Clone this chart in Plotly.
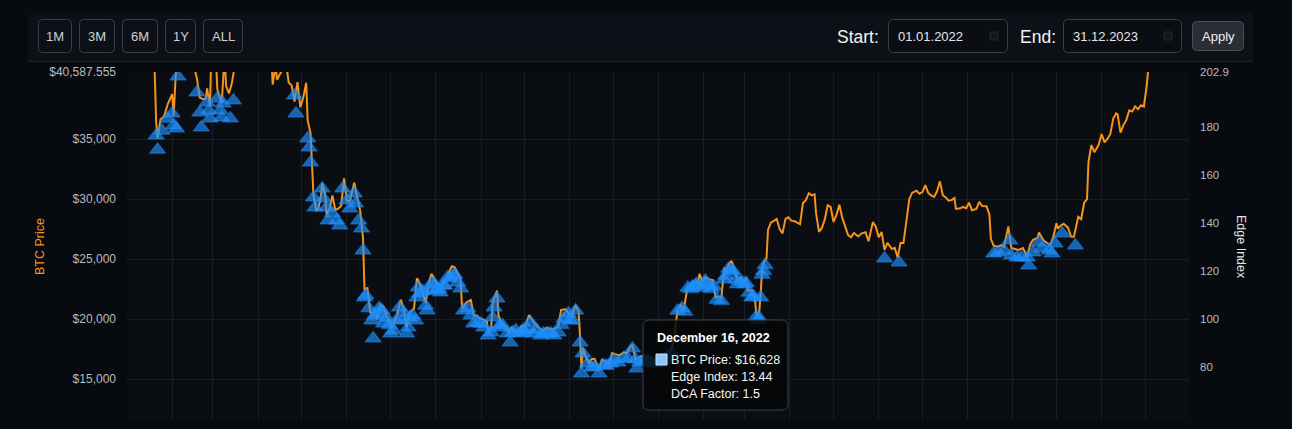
import pandas as pd
import plotly.graph_objects as go

# ---------------- data ----------------
price_dates = [
 "2022-01-01","2022-01-03","2022-01-05","2022-01-07","2022-01-10","2022-01-12","2022-01-14","2022-01-17","2022-01-19","2022-01-20",
 "2022-01-21","2022-01-22","2022-01-24","2022-01-26","2022-01-27","2022-01-29","2022-01-31","2022-02-01","2022-02-02","2022-02-04",
 "2022-02-07","2022-02-09","2022-02-11","2022-02-14","2022-02-16","2022-02-17","2022-02-18","2022-02-20","2022-02-22","2022-02-24",
 "2022-02-25","2022-02-27","2022-02-28","2022-03-02","2022-03-04","2022-03-06","2022-03-07","2022-03-09","2022-03-10","2022-03-12",
 "2022-03-14","2022-03-16","2022-03-18","2022-03-20","2022-03-22","2022-03-24","2022-03-27","2022-03-29","2022-04-01","2022-04-04",
 "2022-04-06","2022-04-08","2022-04-10","2022-04-11","2022-04-13","2022-04-14","2022-04-16","2022-04-18","2022-04-20","2022-04-22",
 "2022-04-24","2022-04-26","2022-04-28","2022-04-30","2022-05-02","2022-05-04","2022-05-05","2022-05-07","2022-05-09","2022-05-11",
 "2022-05-12","2022-05-14","2022-05-15","2022-05-17","2022-05-18","2022-05-20","2022-05-22","2022-05-24","2022-05-26","2022-05-28",
 "2022-05-30","2022-06-01","2022-06-03","2022-06-06","2022-06-08","2022-06-10","2022-06-12","2022-06-13","2022-06-15","2022-06-17",
 "2022-06-18","2022-06-20","2022-06-22","2022-06-24","2022-06-26","2022-06-28","2022-06-30","2022-07-02","2022-07-05","2022-07-08",
 "2022-07-10","2022-07-12","2022-07-14","2022-07-17","2022-07-19","2022-07-20","2022-07-22","2022-07-25","2022-07-27","2022-07-29",
 "2022-07-31","2022-08-02","2022-08-04","2022-08-07","2022-08-10","2022-08-12","2022-08-14","2022-08-16","2022-08-18","2022-08-19",
 "2022-08-22","2022-08-25","2022-08-27","2022-08-29","2022-08-31","2022-09-02","2022-09-05","2022-09-06","2022-09-08","2022-09-09",
 "2022-09-12","2022-09-13","2022-09-15","2022-09-18","2022-09-20","2022-09-22","2022-09-24","2022-09-27","2022-09-29","2022-10-01",
 "2022-10-04","2022-10-06","2022-10-09","2022-10-12","2022-10-14","2022-10-16","2022-10-19","2022-10-21","2022-10-24","2022-10-26",
 "2022-10-29","2022-10-31","2022-11-02","2022-11-05","2022-11-07","2022-11-08","2022-11-09","2022-11-10","2022-11-12","2022-11-14",
 "2022-11-16","2022-11-18","2022-11-21","2022-11-23","2022-11-25","2022-11-28","2022-11-30","2022-12-02","2022-12-05","2022-12-08",
 "2022-12-10","2022-12-13","2022-12-14","2022-12-16","2022-12-18","2022-12-20","2022-12-23","2022-12-26","2022-12-29","2022-12-31",
 "2023-01-02","2023-01-05","2023-01-08","2023-01-10","2023-01-12","2023-01-14","2023-01-16","2023-01-18","2023-01-21","2023-01-23",
 "2023-01-25","2023-01-28","2023-01-29","2023-01-31","2023-02-02","2023-02-04","2023-02-07","2023-02-09","2023-02-11","2023-02-13",
 "2023-02-15","2023-02-16","2023-02-18","2023-02-20","2023-02-22","2023-02-24","2023-02-26","2023-02-28","2023-03-02","2023-03-03",
 "2023-03-06","2023-03-08","2023-03-09","2023-03-10","2023-03-11","2023-03-12","2023-03-13","2023-03-14","2023-03-16","2023-03-17",
 "2023-03-19","2023-03-21","2023-03-23","2023-03-25","2023-03-27","2023-03-29","2023-03-31","2023-04-02","2023-04-04","2023-04-06",
 "2023-04-08","2023-04-10","2023-04-12","2023-04-14","2023-04-16","2023-04-18","2023-04-19","2023-04-21","2023-04-23","2023-04-25",
 "2023-04-27","2023-04-29","2023-05-01","2023-05-03","2023-05-05","2023-05-07","2023-05-09","2023-05-11","2023-05-13","2023-05-15",
 "2023-05-18","2023-05-20","2023-05-23","2023-05-25","2023-05-28","2023-05-30","2023-06-01","2023-06-03","2023-06-05","2023-06-07",
 "2023-06-10","2023-06-12","2023-06-14","2023-06-16","2023-06-18","2023-06-20","2023-06-22","2023-06-24","2023-06-27","2023-06-29",
 "2023-07-01","2023-07-03","2023-07-05","2023-07-07","2023-07-09","2023-07-11","2023-07-13","2023-07-15","2023-07-17","2023-07-19",
 "2023-07-21","2023-07-23","2023-07-24","2023-07-27","2023-07-29","2023-07-31","2023-08-02","2023-08-04","2023-08-07","2023-08-09",
 "2023-08-11","2023-08-14","2023-08-16","2023-08-17","2023-08-19","2023-08-22","2023-08-24","2023-08-26","2023-08-29","2023-08-31",
 "2023-09-02","2023-09-05","2023-09-08","2023-09-11","2023-09-13","2023-09-15","2023-09-18","2023-09-19","2023-09-22","2023-09-25",
 "2023-09-27","2023-09-29","2023-10-01","2023-10-02","2023-10-04","2023-10-06","2023-10-09","2023-10-11","2023-10-13","2023-10-16",
 "2023-10-18","2023-10-20","2023-10-22","2023-10-23","2023-10-25","2023-10-27","2023-10-30","2023-11-01","2023-11-03","2023-11-05",
 "2023-11-07","2023-11-09","2023-11-11","2023-11-12","2023-11-14","2023-11-16","2023-11-18","2023-11-20","2023-11-22","2023-11-24",
 "2023-11-26","2023-11-28","2023-11-30","2023-12-02","2023-12-04","2023-12-06","2023-12-08","2023-12-11","2023-12-14","2023-12-17",
 "2023-12-20","2023-12-23","2023-12-26","2023-12-29","2023-12-31",
]
btc_price = [
 47686,46458,43569,41557,41822,43949,43097,42250,41744,40681,
 36458,35031,36654,36825,37112,37917,38483,38743,36953,41575,
 43840,44338,42373,42586,44000,40538,40030,38431,38340,38332,
 39214,37700,43193,44421,39148,38420,37988,41982,39437,38794,
 39666,41143,41794,41262,42364,43960,46820,47465,46281,46622,
 43170,42252,42159,39530,41147,39942,40424,40801,41502,39709,
 39469,38117,39742,37644,38469,39698,36575,35468,30297,29031,
 29103,30081,31306,30425,28716,29167,30293,29098,29200,29440,
 31724,29796,29864,31370,30196,29077,26770,22487,22572,20553,
 20472,20553,19970,21228,21028,20280,19785,19298,20190,21612,
 20847,19329,20584,20836,23389,23231,22614,21310,22961,23774,
 23336,22978,22626,23175,23936,24403,24319,23880,23335,20877,
 21395,21587,20297,20297,20050,19987,19812,18838,19319,21376,
 22371,20297,19701,19419,18877,19291,18920,19110,19426,19312,
 20340,19960,19446,19157,19069,19262,19125,19172,19345,20771,
 20810,20495,20161,21162,20592,18541,15880,17587,16799,16353,
 16670,16692,15782,16603,16521,16213,17168,17080,16968,17226,
 17128,17782,17815,16628,16776,16906,16779,16842,16633,16548,
 16680,16834,17128,17441,18847,20881,21186,20688,22785,22931,
 23058,23031,23775,23125,23481,23328,23247,21797,21866,21788,
 24296,23746,24550,24851,24188,23166,23512,23150,23438,22389,
 22407,21725,20361,20187,20632,22163,24197,24747,25053,27423,
 28038,28176,28332,27494,27139,28350,28478,28199,28169,28033,
 27906,29676,29903,30485,30315,30396,28822,27262,27592,28307,
 29478,29340,28091,28680,29534,28430,27661,26988,26807,27172,
 26885,27118,27225,26480,28075,27702,26820,27253,25762,26353,
 25852,25941,25119,26344,26336,28328,29996,30530,30693,30446,
 30586,31155,30514,30295,30172,30624,31476,30321,30139,29862,
 29909,30082,29176,29230,29353,29230,29705,29072,29183,29766,
 29424,29409,28702,26665,26100,26034,26163,26009,27726,25931,
 25869,25753,25910,25163,26235,26609,26760,27211,26580,26298,
 26225,26911,27983,27530,27790,27946,27595,26870,26862,28519,
 28328,29669,29993,33086,34502,33909,34526,35422,34720,35011,
 35425,36702,37138,37054,35537,36163,36596,37387,37289,37720,
 37479,37820,37713,39460,41980,44080,44166,41243,43022,41364,
 43652,43997,42520,42099,42265,
]

signal_dates = [
 "2022-01-21","2022-01-22","2022-01-25","2022-01-29","2022-02-01","2022-02-02","2022-02-04","2022-02-05",
 "2022-02-18","2022-02-20","2022-02-21","2022-02-25","2022-02-26","2022-02-27","2022-03-04","2022-03-06",
 "2022-03-07","2022-03-08","2022-03-13","2022-03-15",
 "2022-04-26","2022-04-27","2022-05-05","2022-05-06","2022-05-07",
 "2022-05-09","2022-05-10","2022-05-15","2022-05-16","2022-05-18","2022-05-19","2022-05-22","2022-05-25",
 "2022-05-27","2022-05-29","2022-06-01","2022-06-03","2022-06-06","2022-06-07","2022-06-09","2022-06-11","2022-06-12",
 "2022-06-13","2022-06-14","2022-06-16","2022-06-18","2022-06-19","2022-06-20","2022-06-22","2022-06-23","2022-06-25",
 "2022-06-26","2022-06-28","2022-06-30","2022-07-01","2022-07-03","2022-07-05","2022-07-07","2022-07-09","2022-07-10",
 "2022-07-12","2022-07-13","2022-07-14","2022-07-16","2022-07-18","2022-07-19","2022-07-20","2022-07-21","2022-07-23",
 "2022-07-25","2022-07-26","2022-07-27","2022-07-29","2022-07-31","2022-08-01","2022-08-03","2022-08-04","2022-08-06",
 "2022-08-07","2022-08-09","2022-08-11","2022-08-13","2022-08-14","2022-08-16","2022-08-18","2022-08-20","2022-08-23",
 "2022-08-25","2022-08-27","2022-08-30","2022-09-01","2022-09-03","2022-09-06","2022-09-08","2022-09-09","2022-09-10",
 "2022-09-12","2022-09-13","2022-09-14","2022-09-16","2022-09-19","2022-09-21","2022-09-23","2022-09-25","2022-09-28",
 "2022-09-30","2022-10-01","2022-10-03","2022-10-05","2022-10-07","2022-10-09","2022-10-12","2022-10-14","2022-10-17",
 "2022-10-19","2022-10-21","2022-10-24","2022-10-26","2022-10-28","2022-10-31","2022-11-01","2022-11-03","2022-11-05",
 "2022-11-08","2022-11-09","2022-11-10","2022-11-13","2022-11-16","2022-11-18","2022-11-21","2022-11-24","2022-11-26",
 "2022-11-29","2022-12-01","2022-12-04","2022-12-08","2022-12-11","2022-12-14","2022-12-16","2022-12-17","2022-12-19",
 "2022-12-22","2022-12-24","2022-12-26","2022-12-28","2022-12-30","2023-01-01","2023-01-03","2023-01-05","2023-01-07",
 "2023-01-10","2023-01-14","2023-01-17","2023-01-19","2023-01-21","2023-01-23","2023-01-24","2023-01-26","2023-01-27",
 "2023-01-30","2023-02-01","2023-02-02","2023-02-05","2023-02-06","2023-02-08","2023-02-10","2023-02-13","2023-02-15",
 "2023-02-16","2023-02-18","2023-02-20","2023-02-21","2023-02-23","2023-02-24","2023-02-27","2023-03-01","2023-03-02",
 "2023-03-04","2023-03-06","2023-03-07","2023-03-09","2023-03-10","2023-03-11","2023-03-12","2023-03-13","2023-03-14",
 "2023-03-15",
 "2023-06-05","2023-06-15",
 "2023-08-19","2023-08-22","2023-08-26","2023-08-30","2023-08-31","2023-09-04","2023-09-07","2023-09-11","2023-09-12",
 "2023-09-15","2023-09-19","2023-09-21","2023-09-26","2023-09-28","2023-09-30","2023-10-05","2023-10-14",
]
signal_price = [
 35300,34100,35700,36700,37130,36130,35880,40212,
 38875,37212,35962,38046,37380,36712,38380,37380,
 36800,37962,36712,38212,
 38630,37130,35046,34300,33046,
 30130,29296,30880,30046,29296,28212,28796,28212,
 27796,30880,29880,29212,30460,29630,28212,27546,25712,
 21796,21962,20900,19880,18380,20300,20462,20900,20712,
 19630,20100,19500,18796,19046,19900,20962,19880,20500,
 18796,19296,20100,20296,19880,21796,22630,22130,22300,
 21100,20712,22400,22962,22900,22380,22500,22212,22796,
 22800,23462,23400,23630,23700,23046,22546,20712,20880,
 20296,19630,19712,19600,19296,18630,18900,20130,20962,
 21712,19296,19500,19462,18796,18046,18900,19046,18796,
 19100,18880,19200,19712,18796,19100,18630,18800,18796,
 18800,18630,18880,19500,20046,20462,19900,19880,20712,
 18046,15462,17130,16296,15962,16000,15462,16130,16100,
 16296,16600,16380,16712,16700,17546,16628,15880,16400,
 16546,16500,16400,16300,16300,16400,16500,16600,16900,
 17200,20700,20900,20600,22600,22500,22700,22800,22900,
 22600,22900,23200,22800,22500,22700,21600,21500,23300,
 23600,24200,24000,24000,23300,22900,23100,22900,23000,
 22200,21800,21900,20200,19900,20100,21800,23700,24000,
 24500,
 25046,24712,
 25462,25546,25712,26546,25296,25130,25130,25130,24462,
 25546,26380,25880,25712,25462,26296,27130,26130,
]

range_buttons = ["1M", "3M", "6M", "1Y", "ALL"]
start_label, start_value = "Start:", "01.01.2022"
end_label, end_value = "End:", "31.12.2023"
apply_label = "Apply"

left_range = [11337.555, 40587.555]
left_tick_vals = [15000, 20000, 25000, 30000, 35000]
right_range = [56.7, 202.9]
right_tick_vals = [80, 100, 120, 140, 160, 180]
x_range = ["2022-01-01", "2023-12-31"]

tip_date = "2022-12-16"
tip_price = 16628
tip_edge = 13.44
tip_dca = 1.5

# ---------------- geometry helpers ----------------
W, H = 1292, 429
PL, PR, PT, PB = 127, 1189, 72, 423


def px(x):
    return (x - PL) / (PR - PL)


def py(y):
    return (PB - y) / (PB - PT)


def rrect(x0, y0, x1, y1, r, fill, line=None, lw=1, layer="below", top_only=False):
    X0, X1, Y0, Y1 = px(x0), px(x1), py(y0), py(y1)
    rx = r / (PR - PL)
    ry = r / (PB - PT)
    if top_only:
        path = (f"M{X0},{Y1} V{Y0-ry} Q{X0},{Y0} {X0+rx},{Y0} H{X1-rx} "
                f"Q{X1},{Y0} {X1},{Y0-ry} V{Y1} Z")
    else:
        path = (f"M{X0+rx},{Y0} H{X1-rx} Q{X1},{Y0} {X1},{Y0-ry} V{Y1+ry} "
                f"Q{X1},{Y1} {X1-rx},{Y1} H{X0+rx} Q{X0},{Y1} {X0},{Y1+ry} "
                f"V{Y0-ry} Q{X0},{Y0} {X0+rx},{Y0} Z")
    return dict(type="path", xref="paper", yref="paper", path=path,
                fillcolor=fill, line=dict(color=line or fill, width=lw if line else 0),
                layer=layer)


FONT = "Liberation Sans, Arial, Helvetica, sans-serif"
PAGE_BG = "#070a0f"
PANEL_BG = "#0d1117"
PLOT_BG = "#0a0d11"
GRID = "#1a1e24"
ORANGE = "#f7931a"

fig = go.Figure()

fig.add_trace(go.Scatter(
    x=price_dates, y=btc_price, mode="lines", name="BTC Price",
    line=dict(color=ORANGE, width=2), hoverinfo="skip", yaxis="y"))

fig.add_trace(go.Scatter(
    x=signal_dates, y=signal_price, mode="markers", name="DCA signal",
    marker=dict(symbol="triangle-up", size=14, color="rgba(30,144,255,0.66)",
                line=dict(color="rgba(30,144,255,0.4)", width=1.5)),
    hoverinfo="skip", yaxis="y"))

# empty edge-index trace so the right axis exists
fig.add_trace(go.Scatter(x=[], y=[], yaxis="y2", mode="lines", hoverinfo="skip",
                         showlegend=False))

left_vals = [left_range[0]] + left_tick_vals + [left_range[1]]
left_text = [f"${left_range[0]:,.3f}"] + [f"${v:,.0f}" for v in left_tick_vals] + [f"${left_range[1]:,.3f}"]
right_vals = [right_range[0]] + right_tick_vals + [right_range[1]]
right_text = [f"{right_range[0]:.1f}"] + [f"{v}" for v in right_tick_vals] + [f"{right_range[1]:.1f}"]

shapes = []
annotations = []

# header panel
shapes.append(rrect(28, 12, 1253, 62, 7, PANEL_BG, top_only=True))
shapes.append(dict(type="line", xref="paper", yref="paper", x0=px(28), x1=px(1253),
                   y0=py(61.5), y1=py(61.5), line=dict(color="#1c2129", width=1), layer="below"))

# range buttons
btn_x = [(38, 72), (79, 115), (122, 158), (165, 196), (203, 243)]
for (x0, x1), lab in zip(btn_x, range_buttons):
    shapes.append(rrect(x0 + 0.5, 19.5, x1 - 0.5, 52.5, 4, PANEL_BG, line="#3a3e45", lw=1))
    annotations.append(dict(x=px((x0 + x1) / 2), y=py(36.5), xref="paper", yref="paper",
                            text=lab, showarrow=False, xanchor="center", yanchor="middle",
                            font=dict(family=FONT, size=13, color="#cfd2d6")))

# date inputs
for (x0, x1), lab, lab_x, val in [((888, 1008), start_label, 835, start_value),
                                  ((1063, 1182), end_label, 1018, end_value)]:
    annotations.append(dict(x=px(lab_x), y=py(37), xref="paper", yref="paper", text=lab,
                            showarrow=False, xanchor="left", yanchor="middle",
                            font=dict(family=FONT, size=17.5, color="#f2f3f5")))
    shapes.append(rrect(x0 + 0.5, 19.5, x1 - 0.5, 52.5, 5, "#0a0d12", line="#3a3e45", lw=1))
    annotations.append(dict(x=px(x0 + 8), y=py(36.5), xref="paper", yref="paper", text=val,
                            showarrow=False, xanchor="left", yanchor="middle",
                            font=dict(family=FONT, size=13, color="#e4e6e9")))
    shapes.append(rrect(x1 - 18, 32, x1 - 10, 40, 1, "#15191e", line="#24282e", lw=1))

# apply button
shapes.append(rrect(1192.5, 21.5, 1243.5, 50.5, 4, "#2a2e34", line="#4a4f56", lw=1))
annotations.append(dict(x=px(1218), y=py(36.5), xref="paper", yref="paper", text=apply_label,
                        showarrow=False, xanchor="center", yanchor="middle",
                        font=dict(family=FONT, size=13, color="#f0f1f3")))

# axis titles
annotations.append(dict(x=px(40), y=py(247), xref="paper", yref="paper", text="BTC Price",
                        showarrow=False, textangle=-90, xanchor="center", yanchor="middle",
                        font=dict(family=FONT, size=12.5, color=ORANGE)))
annotations.append(dict(x=px(1241), y=py(247), xref="paper", yref="paper", text="Edge Index",
                        showarrow=False, textangle=90, xanchor="center", yanchor="middle",
                        font=dict(family=FONT, size=12.5, color="#e2e4e7")))

# tooltip (hover box for one signal point)
tip_title = pd.Timestamp(tip_date).strftime("%B %-d, %Y")
shapes.append(rrect(643, 320, 788, 410, 6, "rgba(5,6,8,0.84)", line="#3d4046", lw=1, layer="above"))
shapes.append(dict(type="rect", xref="paper", yref="paper", x0=px(656), x1=px(667),
                   y0=py(365), y1=py(354), fillcolor="#8ec4ff",
                   line=dict(color="#cfe4ff", width=1), layer="above"))
annotations.append(dict(x=px(655), y=py(338), xref="paper", yref="paper", text=f"<b>{tip_title}</b>",
                        showarrow=False, xanchor="left", yanchor="middle",
                        font=dict(family=FONT, size=12.5, color="#ffffff")))
for yy, txt in [(359.5, f"BTC Price: ${tip_price:,.0f}"),
                (377, f"Edge Index: {tip_edge:.2f}"),
                (394, f"DCA Factor: {tip_dca}")]:
    annotations.append(dict(x=px(669), y=py(yy), xref="paper", yref="paper", text=txt,
                            showarrow=False, xanchor="left", yanchor="middle",
                            font=dict(family=FONT, size=12.5, color="#f5f5f5")))

# bottom clipping strip (the chart container is cut off here)
shapes.append(dict(type="rect", xref="paper", yref="paper", x0=px(0), x1=px(W),
                   y0=py(H + 2), y1=py(419.5), fillcolor=PAGE_BG, line=dict(width=0), layer="above"))

fig.update_layout(
    width=W, height=H,
    margin=dict(l=PL, r=W - PR, t=PT, b=H - PB, pad=0),
    paper_bgcolor=PAGE_BG, plot_bgcolor=PLOT_BG,
    showlegend=False, hovermode=False,
    font=dict(family=FONT, color="#b5b8bd"),
    xaxis=dict(type="date", range=x_range, showgrid=True, gridcolor=GRID, gridwidth=1,
               dtick="M1", tick0="2022-01-01", showticklabels=False, zeroline=False,
               showline=False, ticks=""),
    yaxis=dict(range=left_range, tickmode="array", tickvals=left_vals, ticktext=left_text,
               showgrid=True, gridcolor=GRID, zeroline=False, showline=False, ticks="",
               ticklabelstandoff=10, tickfont=dict(family=FONT, size=12, color="#b8bbc0")),
    yaxis2=dict(range=right_range, overlaying="y", side="right", anchor="x",
                tickmode="array", tickvals=right_vals, ticktext=right_text,
                showgrid=False, zeroline=False, showline=False, ticks="",
                ticklabelstandoff=10, tickfont=dict(family=FONT, size=11.5, color="#b8bbc0")),
    shapes=shapes, annotations=annotations,
)

fig.write_html("out.html", config={"displayModeBar": False},
               post_script="document.body.style.margin='0';document.body.style.background='%s';document.body.style.overflow='hidden';" % PAGE_BG)
